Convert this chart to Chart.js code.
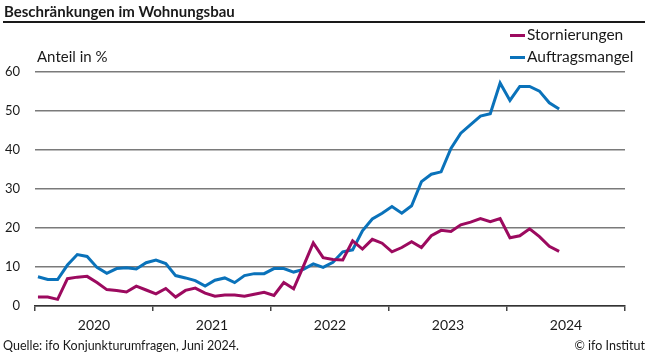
<!DOCTYPE html>
<html>
<head>
<meta charset="utf-8">
<script src="https://cdn.jsdelivr.net/npm/chart.js@4/dist/chart.umd.min.js"></script>
<style>
  html, body { margin: 0; padding: 0; background: #fff; }
  body { width: 650px; height: 358px; position: relative; overflow: hidden; font-family: Lato, "Open Sans", sans-serif; color: #1a1a1a; }
  #titel { position: absolute; left: 4px; top: 2px; font-size: 15px; font-weight: bold; }
  #linie { position: absolute; left: 3px; top: 21px; width: 642px; height: 2px; background: #1a1a1a; }
  #einheit { position: absolute; left: 37px; top: 47px; font-size: 15px; }
  .leg { position: absolute; left: 510px; font-size: 15.5px; }
  .leg span { display: inline-block; width: 15px; height: 3px; vertical-align: middle; margin-right: 2px; position: relative; top: -1px; }
  #quelle { position: absolute; left: 3px; top: 338px; font-size: 12.5px; }
  #copy { position: absolute; right: 5px; top: 338px; font-size: 12.5px; }
  #wrap { position: absolute; left: 0; top: 0; width: 650px; height: 358px; }
</style>
</head>
<body>
<div id="wrap"><canvas id="grafik"></canvas></div>
<div id="titel">Beschränkungen im Wohnungsbau</div>
<div id="linie"></div>
<div id="einheit">Anteil in %</div>
<div class="leg" style="top:25px"><span style="background:#9c0a5f"></span>Stornierungen</div>
<div class="leg" style="top:47px"><span style="background:#0a72ba"></span>Auftragsmangel</div>
<div id="quelle">Quelle: ifo Konjunkturumfragen, Juni 2024.</div>
<div id="copy">© ifo Institut</div>

<script>
// Monatswerte Januar 2020 bis Juni 2024
const jahre = ['2020', '2021', '2022', '2023', '2024'];

const stornierungen = [
    2.3, 2.3, 1.7, 7.0, 7.4, 7.6, 6.0, 4.2, 4.0, 3.6, 5.1, 4.1,
    3.1, 4.5, 2.3, 4.0, 4.6, 3.3, 2.5, 2.8, 2.8, 2.5, 3.0, 3.5,
    2.7, 6.0, 4.4, 10.2, 16.2, 12.4, 11.9, 11.8, 16.7, 14.6, 17.1, 16.1,
    13.9, 15.0, 16.5, 15.0, 18.0, 19.4, 19.1, 20.8, 21.5, 22.4, 21.6, 22.4,
    17.5, 18.0, 19.8, 17.8, 15.3, 14.0
];

const auftragsmangel = [
    7.5, 6.8, 6.8, 10.5, 13.2, 12.7, 9.9, 8.4, 9.6, 9.8, 9.5, 11.1,
    11.8, 10.9, 7.8, 7.2, 6.5, 5.1, 6.6, 7.2, 6.0, 7.8, 8.3, 8.3,
    9.6, 9.6, 8.7, 9.4, 10.8, 9.9, 11.2, 13.9, 14.4, 19.3, 22.3, 23.8,
    25.5, 23.8, 25.7, 31.9, 33.8, 34.4, 40.4, 44.3, 46.5, 48.7, 49.3, 57.2,
    52.7, 56.3, 56.3, 55.1, 52.1, 50.5
];

const yTicks = [0, 10, 20, 30, 40, 50, 60];

// Punkte: Monat i liegt bei i + 0.3 auf der Monatsachse
function punkte(werte) {
    return werte.map((v, i) => ({ x: i + 0.3, y: v }));
}

window.onload = function () {

    const ctx = document.getElementById('grafik');

    new Chart(ctx, {
        type: 'line',
        data: {
            datasets: [
                {
                    label: 'Stornierungen',
                    data: punkte(stornierungen),
                    borderColor: '#9c0a5f',
                    borderWidth: 3,
                    pointRadius: 0,
                    tension: 0
                },
                {
                    label: 'Auftragsmangel',
                    data: punkte(auftragsmangel),
                    borderColor: '#0a72ba',
                    borderWidth: 3,
                    pointRadius: 0,
                    tension: 0
                }
            ]
        },
        options: {
            responsive: true,
            maintainAspectRatio: false,
            animation: false,
            layout: {
                padding: { top: 72, right: 25, left: 0, bottom: 0 }
            },
            plugins: {
                legend: { display: false },
                tooltip: { enabled: false }
            },
            scales: {
                x: {
                    type: 'linear',
                    min: 0,
                    max: jahre.length * 12,
                    afterFit: s => { s.height = 52; },
                    afterBuildTicks: s => {
                        s.ticks = [];
                        for (let m = 0; m <= jahre.length * 12; m += 6) s.ticks.push({ value: m });
                    },
                    border: { color: '#333', width: 1.5 },
                    grid: {
                        drawOnChartArea: false,
                        tickLength: 5,
                        lineWidth: 1.5,
                        color: c => (c.tick && c.tick.value % 12 === 0) ? '#444' : 'rgba(0,0,0,0)'
                    },
                    ticks: {
                        autoSkip: false,
                        maxRotation: 0,
                        padding: 6,
                        color: '#1a1a1a',
                        font: { family: 'Lato', size: 14 },
                        callback: v => (v % 12 === 6) ? jahre[(v - 6) / 12] : ''
                    }
                },
                y: {
                    min: 0,
                    max: 60,
                    afterFit: s => { s.width = 35; },
                    afterBuildTicks: s => { s.ticks = yTicks.map(v => ({ value: v })); },
                    border: { display: false },
                    grid: {
                        drawTicks: false,
                        lineWidth: 1.5,
                        color: '#7a7a7a'
                    },
                    ticks: {
                        padding: 15,
                        color: '#1a1a1a',
                        font: { family: 'Lato', size: 13 }
                    }
                }
            }
        }
    });
};
</script>
</body>
</html>
